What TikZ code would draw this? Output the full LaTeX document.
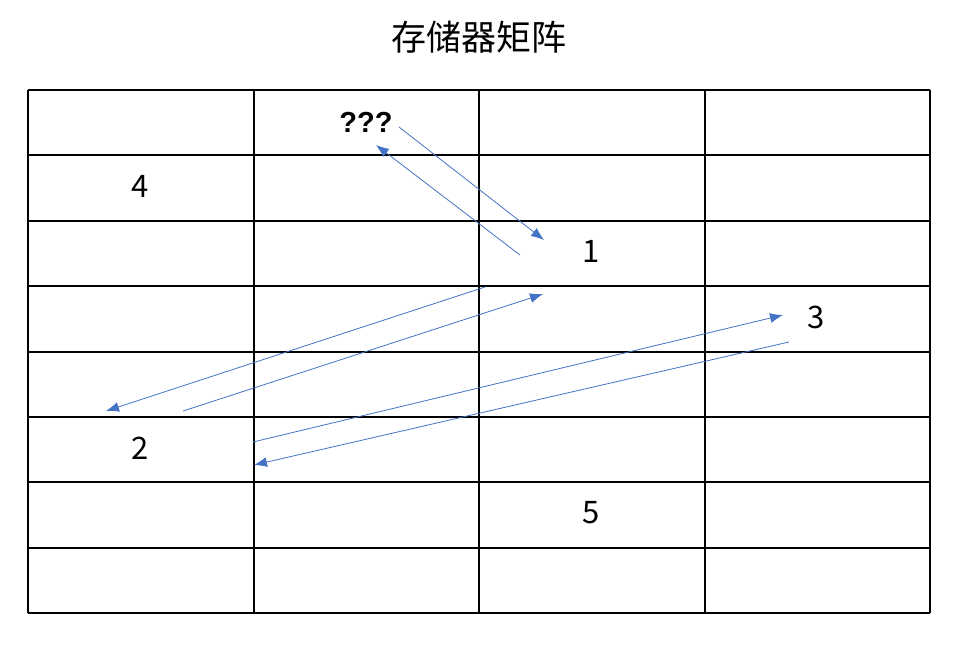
\documentclass[tikz,border=0pt]{standalone}
\usepackage{fontspec}
\setmainfont{Noto Sans CJK SC}
\newfontfamily\qfont{Liberation Sans}
\usetikzlibrary{arrows.meta}
\definecolor{arrowblue}{RGB}{68,114,196}

\begin{document}
\begin{tikzpicture}[x=1pt, y=-1pt,
cell/.style = {font=\fontsize{31}{36}\selectfont},
link/.style = {draw=arrowblue, line width=0.8pt, -{Latex[length=13pt,width=10pt]}}]
\useasboundingbox (0,0) rectangle (957,646);
% title
\node (title) at (479,37) {\fontsize{35}{42}\selectfont 存储器矩阵};
% matrix grid
\foreach \x in {28,253.5,479,704.5,930}
    \draw[line width=2pt] (\x,90) -- (\x,613);
\foreach \y in {90,155.4,220.8,286.2,351.6,417,482.4,547.8,613}
    \draw[line width=2pt] (28,\y) -- (930,\y);
% labels
\node[cell, font=\qfont\bfseries\fontsize{29}{33}\selectfont] (qmark) at (366,122) {???};
\node[cell] (one) at (591,251) {1};
\node[cell] (four) at (140,186) {4};
\node[cell] (three) at (816,317) {3};
\node[cell] (two) at (140,448) {2};
\node[cell] (five) at (591,513) {5};
% arrow ends
\coordinate (a1s) at (399,127); \coordinate (a1e) at (544,240);
\coordinate (a2s) at (520,255); \coordinate (a2e) at (376,145);
\coordinate (a3s) at (485,287); \coordinate (a3e) at (106,411);
\coordinate (a4s) at (183,411); \coordinate (a4e) at (543,294);
\coordinate (a5s) at (253,442); \coordinate (a5e) at (783,315);
\coordinate (a6s) at (789,342); \coordinate (a6e) at (254,465);
\foreach \i in {1,...,6}
    \draw[link] (a\i s) -- (a\i e);
\end{tikzpicture}
\end{document}
